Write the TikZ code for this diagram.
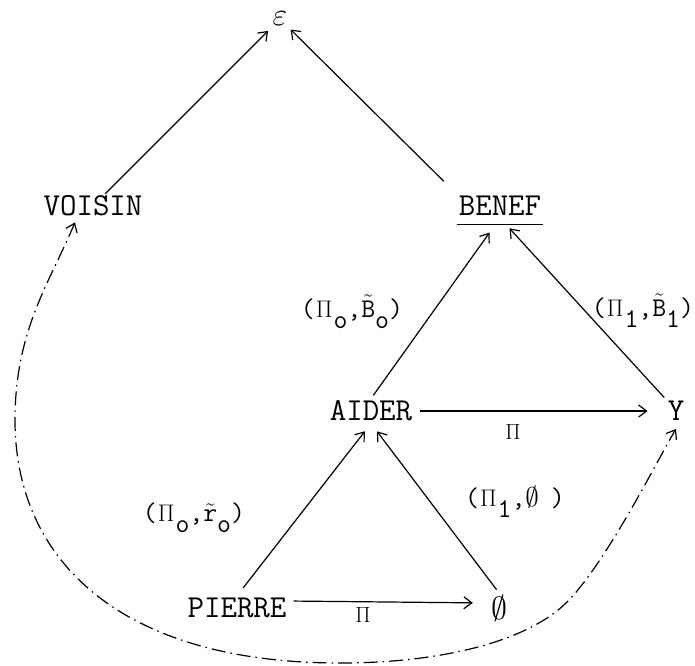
\RequirePackage{fix-cm}
\documentclass[tikz,border=0pt]{standalone}
\usetikzlibrary{arrows.meta}
\newcommand{\sbx}[1]{\raisebox{-11pt}{#1}}
\newcommand{\smpi}{{\fontsize{24}{26}\selectfont$\Pi$}}
\newcommand{\pairlab}[3]{(\kern1pt\smpi\kern1pt\sbx{#1},#2\sbx{#3})}
\newcommand{\tld}[1]{$\tilde{\hbox{#1}}$}
\tikzset{
  word/.style={font=\fontsize{32}{38}\selectfont\ttfamily, inner sep=2pt},
  lbl/.style={font=\fontsize{27}{30}\selectfont\ttfamily, inner sep=0pt},
  pilbl/.style={font=\fontsize{22}{24}\selectfont, inner sep=0pt},
  arr/.style={-{Straight Barb[length=8pt,width=12pt]}, line width=1.2pt},
  dd/.style={{Straight Barb[length=8pt,width=12pt]}-{Straight Barb[length=8pt,width=12pt]}, line width=1.2pt,
    dash pattern=on 14pt off 5pt on 1.5pt off 5pt}
}
\begin{document}
\begin{tikzpicture}[x=1pt,y=-1pt]
\useasboundingbox (0,0) rectangle (695,665);
\node[word, font=\fontsize{32}{36}\selectfont] (eps) at (280,19) {$\varepsilon$};
\node[word] (voisin) at (93,206) {VOISIN};
\node[word] (benef) at (500,206) {BENEF};
\draw[line width=1.2pt] ([yshift=-9pt]benef.base west) -- ([yshift=-9pt]benef.base east);
\node[word] (aider) at (371,411) {AIDER};
\node[word] (y) at (676,411) {Y};
\node[word] (pierre) at (237,608) {PIERRE};
\node[word] (empty) at (499,608) {$\emptyset$};

\node[lbl] (l1) at (352,312) {\pairlab{o}{\tld{B}}{o}};
\node[lbl] (l2) at (643,311) {\pairlab{1}{\tld{B}}{1}};
\node[lbl] (l3) at (515,502) {(\kern1pt\smpi\kern1pt\sbx{1},$\emptyset$\kern12pt)};
\node[lbl] (l4) at (194,518) {\pairlab{o}{\tld{r}}{o}};
\node[pilbl] (p1) at (513,432) {$\Pi$};
\node[pilbl] (p2) at (363,615) {$\Pi$};

\draw[arr, shorten >=4pt] (voisin) -- (eps);
\draw[arr, shorten <=18pt, shorten >=2pt] (benef.north west) -- (eps);
\draw[arr, shorten <=4pt, shorten >=18pt] (aider.north) -- (benef.south);
\draw[arr, shorten <=2pt, shorten >=14pt] (y.north west) -- (benef.south);
\draw[arr, shorten <=6pt, shorten >=18pt] (aider.east) -- (y.west);
\draw[arr, shorten <=10pt, shorten >=10pt] (pierre.north) -- (aider.south);
\draw[arr, shorten <=4pt, shorten >=10pt] (empty.north) -- (aider.south);
\draw[arr, shorten <=5pt, shorten >=16pt] ([yshift=7pt]pierre.east) -- ([yshift=5pt]empty.west);

\draw[dd] ([xshift=-18pt,yshift=-4pt]voisin.south)
  .. controls (50,282) and (15,330) .. (15,420)
  .. controls (15,560) and (120,663) .. (340,663)
  .. controls (440,663) and (527,642) .. (567,602)
  .. controls (607,562) and (660,455) .. ([yshift=-6pt]y.south);
\end{tikzpicture}
\end{document}
